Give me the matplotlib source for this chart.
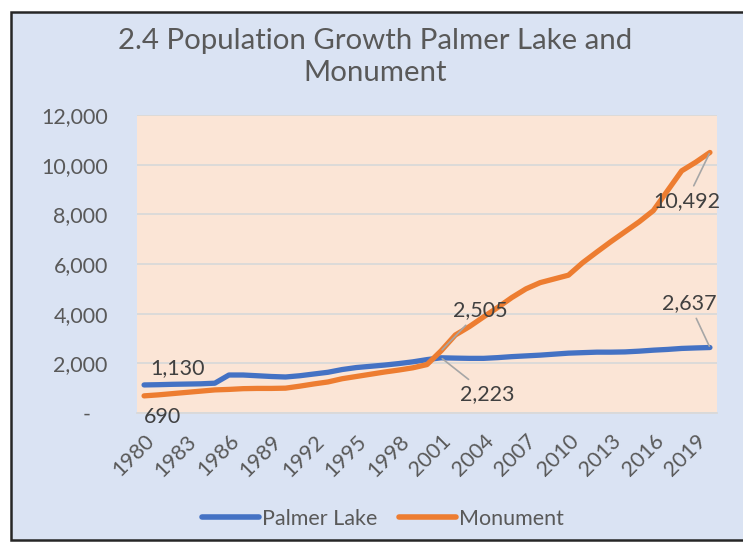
import matplotlib
matplotlib.use("Agg")
import matplotlib.pyplot as plt
from matplotlib.patches import Rectangle
from matplotlib.ticker import FuncFormatter

years = list(range(1980, 2021))
palmer_lake = [1130, 1140, 1155, 1165, 1175, 1200, 1530, 1530, 1500, 1470,
               1450, 1500, 1570, 1640, 1750, 1830, 1880, 1930, 1990, 2060,
               2150, 2223, 2210, 2200, 2200, 2230, 2270, 2300, 2330, 2370,
               2410, 2430, 2450, 2450, 2460, 2490, 2530, 2560, 2600, 2620,
               2637]
monument = [690, 730, 780, 830, 880, 930, 950, 980, 990, 990,
            1000, 1080, 1170, 1250, 1380, 1470, 1560, 1650, 1730, 1820,
            1950, 2505, 3140, 3480, 3870, 4250, 4650, 5000, 5250, 5400,
            5550, 6050, 6480, 6900, 7300, 7700, 8150, 8950, 9750, 10100,
            10492]
tick_years = list(range(1980, 2020, 3))
y_ticks = [0, 2000, 4000, 6000, 8000, 10000, 12000]
title = "2.4 Population Growth Palmer Lake and\nMonument"

FONT = "Lato"
TXT = "#595959"
LBL = "#404040"
BLUE = "#4472C4"
ORANGE = "#ED7D31"
FS = 15.5

W, H = 743, 542
fig = plt.figure(figsize=(W / 100, H / 100), dpi=100)
fig.patch.set_facecolor("white")

# chart area frame
fig.patches.append(Rectangle((11 / W, 1 - 540 / H), (W + 20 - 11) / W, (540 - 12) / H,
                             transform=fig.transFigure, facecolor="#DAE3F3",
                             edgecolor="#262626", linewidth=1.8, zorder=-5))

ax = fig.add_axes([137 / W, 1 - 413 / H, (717 - 137) / W, (413 - 115) / H])
ax.set_zorder(2)
ax.set_facecolor("#FBE5D6")

idx = list(range(len(years)))
ax.plot(idx, palmer_lake, color=BLUE, lw=3.8, solid_capstyle="round",
        solid_joinstyle="round", label="Palmer Lake", zorder=3)
ax.plot(idx, monument, color=ORANGE, lw=3.8, solid_capstyle="round",
        solid_joinstyle="round", label="Monument", zorder=3)

ax.set_xlim(-0.5, len(years) - 0.5)
ax.set_ylim(0, 12000)
ax.set_yticks(y_ticks)
ax.yaxis.set_major_formatter(FuncFormatter(lambda v, p: "-   " if v == 0 else f"{int(v):,}"))
ax.grid(axis="y", color="#D9D9D9", lw=1.3, zorder=0)
ax.set_axisbelow(True)
for s in ["top", "right", "left"]:
    ax.spines[s].set_visible(False)
ax.spines["bottom"].set_color("#D9D9D9")
ax.spines["bottom"].set_linewidth(1.3)

tick_pos = [years.index(y) for y in tick_years]
ax.set_xticks(tick_pos)
ax.set_xticklabels([str(y) for y in tick_years], rotation=45, ha="right",
                   va="top", rotation_mode="anchor", fontsize=FS,
                   color=TXT, family=FONT)
ax.tick_params(axis="both", length=0)
ax.tick_params(axis="x", pad=13)
ax.tick_params(axis="y", pad=21)
for t in ax.get_yticklabels():
    t.set_fontsize(FS)
    t.set_color(TXT)
    t.set_family(FONT)

# data labels
def lab(i, vals, text, dx, dy, leader=False):
    kw = dict(textcoords="offset points", ha="center", va="center",
              fontsize=FS, color=LBL, family=FONT, zorder=5)
    if leader:
        kw["arrowprops"] = dict(arrowstyle="-", color="#A6A6A6", lw=1.2,
                                shrinkA=2, shrinkB=1)
    ax.annotate(text, xy=(i, vals[i]), xytext=(dx, dy), **kw)

i01 = years.index(2001)
i20 = years.index(2020)
lab(0, palmer_lake, f"{palmer_lake[0]:,}", 24, 12)
lab(0, monument, f"{monument[0]:,}", 13, -15)
lab(i01, monument, f"{monument[i01]:,}", 28, 29, True)
lab(i01, palmer_lake, f"{palmer_lake[i01]:,}", 33, -26, True)
lab(i20, monument, f"{monument[i20]:,}", -17, -35, True)
lab(i20, palmer_lake, f"{palmer_lake[i20]:,}", -15, 32, True)

fig.text(375 / W, 1 - 57 / H, title, ha="center", va="center", fontsize=21.2,
         color=TXT, family=FONT, linespacing=1.3)

leg = fig.legend(loc="center", bbox_to_anchor=(383 / W, 1 - 519 / H), ncol=2,
                 frameon=False, prop={"family": FONT, "size": FS},
                 handlelength=2.65, handletextpad=0.15, columnspacing=1.0)
for t in leg.get_texts():
    t.set_color(TXT)
for l in leg.get_lines():
    l.set_linewidth(4)

fig.savefig("out.png", dpi=100, facecolor=fig.get_facecolor())
